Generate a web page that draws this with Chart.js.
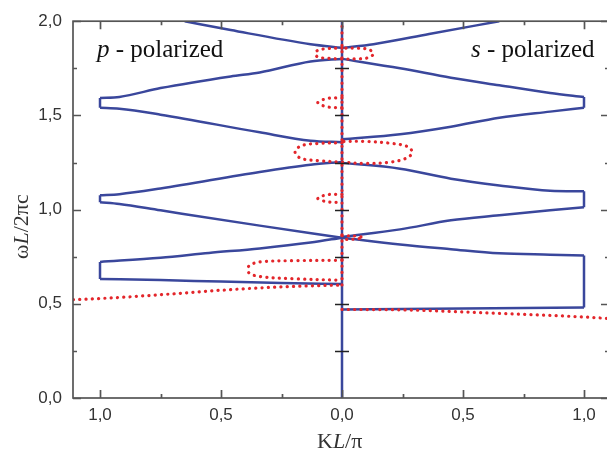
<!DOCTYPE html>
<html>
<head>
<meta charset="utf-8">
<script src="https://cdn.jsdelivr.net/npm/chart.js@4"></script>
<style>
  html, body { margin: 0; padding: 0; overflow: hidden; background: #fff; }
  canvas { display: block; }
</style>
</head>
<body>
<canvas id="bandas" width="612" height="458"></canvas>
<script>
// Bordes de banda: [KL/pi, wL/2pi c]; K negativo = mitad p (izquierda)
const p1Low  = [[-1, 0.632], [-0.75, 0.626], [-0.5, 0.618], [-0.25, 0.611], [0, 0.605]];
const p1High = [[-1, 0.722], [-0.75, 0.745], [-0.55, 0.77], [-0.34, 0.794], [-0.13, 0.825], [0, 0.851]];
const p1Edge = [[-1, 0.632], [-1, 0.722]];
const p2Low  = [[-1, 1.039], [-0.92, 1.03], [-0.75, 0.996], [-0.34, 0.915], [0, 0.851]];
const p2High = [[-1, 1.076], [-0.92, 1.082], [-0.75, 1.112], [-0.34, 1.2], [-0.13, 1.238], [0, 1.253]];
const p2Edge = [[-1, 1.039], [-1, 1.076]];
const p3Low  = [[-1, 1.54], [-0.92, 1.535], [-0.75, 1.504], [-0.34, 1.41], [-0.13, 1.366], [0, 1.358]];
const p3High = [[-1, 1.593], [-0.92, 1.598], [-0.75, 1.645], [-0.46, 1.707], [-0.34, 1.728], [-0.13, 1.786], [0, 1.8]];
const p3Edge = [[-1, 1.54], [-1, 1.593]];
const p4Low  = [[-0.65, 2.0], [-0.46, 1.953], [-0.13, 1.878], [0, 1.859]];

// mitad s (derecha)
const s1Low  = [[0, 0.47], [0.5, 0.475], [1, 0.48]];
const s1High = [[0, 0.851], [0.24, 0.815], [0.45, 0.79], [0.65, 0.768], [0.86, 0.761], [1, 0.757]];
const s1Edge = [[1, 0.48], [1, 0.757]];
const s2Low  = [[0, 0.855], [0.24, 0.895], [0.45, 0.943], [0.65, 0.97], [0.86, 0.997], [1, 1.013]];
const s2High = [[0, 1.248], [0.24, 1.217], [0.45, 1.164], [0.65, 1.128], [0.86, 1.1], [1, 1.097]];
const s2Edge = [[1, 1.013], [1, 1.097]];
const s3Low  = [[0, 1.373], [0.24, 1.4], [0.45, 1.44], [0.65, 1.488], [0.86, 1.52], [1, 1.54]];
const s3High = [[0, 1.8], [0.24, 1.75], [0.45, 1.7], [0.65, 1.66], [0.86, 1.619], [1, 1.598]];
const s3Edge = [[1, 1.54], [1, 1.598]];
const s4Low  = [[0, 1.859], [0.13, 1.878], [0.36, 1.932], [0.65, 2.0]];
const kZero  = [[0, 0], [0, 2]];

// Curvas punteadas (rojo)
const pLight = [[-1.11, 0.522], [-1, 0.528], [-0.75, 0.548], [-0.5, 0.572], [-0.25, 0.59], [0, 0.6]];
const sLight = [[0, 0.47], [0.24, 0.468], [0.65, 0.449], [1, 0.43], [1.1, 0.422]];
const kZeroDots = [[0, 0.6], [0, 2]];
const loopA = [[0, 0.731], [-0.2, 0.729], [-0.34, 0.722], [-0.385, 0.7], [-0.385, 0.665], [-0.34, 0.645], [-0.2, 0.633], [0, 0.625]];
const loopB = [[0, 0.862], [0.06, 0.859], [0.087, 0.851], [0.06, 0.844], [0, 0.841]];
const loopC = [[0, 1.081], [-0.06, 1.079], [-0.1, 1.06], [-0.06, 1.041], [0, 1.039]];
const loopD = [[0, 1.355], [-0.1, 1.351], [-0.17, 1.338], [-0.194, 1.305], [-0.17, 1.272], [-0.1, 1.26], [0, 1.252],
               [0.1, 1.245], [0.2, 1.252], [0.27, 1.275], [0.29, 1.305], [0.27, 1.335], [0.2, 1.352], [0.1, 1.362], [0, 1.362]];
const loopE = [[0, 1.593], [-0.06, 1.59], [-0.1, 1.567], [-0.06, 1.545], [0, 1.541]];
const loopF = [[0, 1.857], [-0.06, 1.855], [-0.1, 1.845], [-0.11, 1.828], [-0.1, 1.81], [-0.06, 1.803], [0, 1.8],
               [0.06, 1.8], [0.11, 1.807], [0.13, 1.828], [0.11, 1.85], [0.06, 1.857], [0, 1.857]];

// Marcas de los ejes
const kTicks = [-1, -0.5, 0, 0.5, 1];
const kMinor = [-0.75, -0.25, 0.25, 0.75];
const wTicks = [0, 0.5, 1, 1.5, 2];
const wMinor = [0.25, 0.75, 1.25, 1.75];
const centerTicks = [0.25, 0.5, 0.75, 1, 1.25, 1.5, 1.75];

const AZUL = "#3a479c";
const ROJO = "#e3262b";

function pts(arr) {
  return arr.map(function (p) { return { x: p[0], y: p[1] }; });
}

let datasets = [];

// bordes azules
[kZero, p1Low, p1High, p1Edge, p2Low, p2High, p2Edge, p3Low, p3High, p3Edge, p4Low,
 s1Low, s1High, s1Edge, s2Low, s2High, s2Edge, s3Low, s3High, s3Edge, s4Low].forEach(function (c) {
  datasets.push({
    data: pts(c),
    showLine: true,
    borderColor: AZUL,
    borderWidth: 2.5,
    pointRadius: 0,
    cubicInterpolationMode: "monotone",
    order: 2
  });
});

// rectas punteadas
[pLight, sLight, kZeroDots].forEach(function (c) {
  datasets.push({
    data: pts(c),
    showLine: true,
    borderColor: ROJO,
    borderWidth: 3.2,
    borderDash: [0.1, 6.2],
    borderCapStyle: "round",
    pointRadius: 0,
    cubicInterpolationMode: "monotone",
    order: 1
  });
});

// lazos punteados
[loopA, loopB, loopC, loopD, loopE, loopF].forEach(function (c) {
  datasets.push({
    data: pts(c),
    showLine: true,
    borderColor: ROJO,
    borderWidth: 3.2,
    borderDash: [0.1, 6.2],
    borderCapStyle: "round",
    pointRadius: 0,
    tension: 0.35,
    order: 1
  });
});

function coma(v) {
  return Math.abs(v).toFixed(1).replace(".", ",");
}

// Marco, marcas internas y textos
const marco = {
  id: "marco",
  afterDatasetsDraw(chart) {
    const ctx = chart.ctx;
    const a = chart.chartArea;
    const xs = chart.scales.x;
    const ys = chart.scales.y;
    ctx.save();
    ctx.strokeStyle = "#555";
    ctx.lineWidth = 1.7;
    ctx.strokeRect(a.left, a.top, a.right - a.left, a.bottom - a.top);

    ctx.beginPath();
    kTicks.concat(kMinor).forEach(function (v) {
      const len = kTicks.indexOf(v) >= 0 ? 8 : 4;
      const px = Math.round(xs.getPixelForValue(v)) + 0.5;
      ctx.moveTo(px, a.bottom); ctx.lineTo(px, a.bottom - len);
      ctx.moveTo(px, a.top); ctx.lineTo(px, a.top + len);
    });
    wTicks.concat(wMinor).forEach(function (v) {
      const len = wTicks.indexOf(v) >= 0 ? 8 : 4;
      const py = Math.round(ys.getPixelForValue(v)) + 0.5;
      ctx.moveTo(a.left, py); ctx.lineTo(a.left + len, py);
      ctx.moveTo(a.right, py); ctx.lineTo(a.right - len, py);
    });
    ctx.stroke();

    // marcas sobre K = 0
    const cx = xs.getPixelForValue(0);
    ctx.strokeStyle = "#222";
    ctx.lineWidth = 1.5;
    ctx.beginPath();
    centerTicks.forEach(function (v) {
      const py = Math.round(ys.getPixelForValue(v)) + 0.5;
      ctx.moveTo(cx - 7, py); ctx.lineTo(cx + 7, py);
    });
    ctx.stroke();

    // rotulos de polarizacion
    ctx.fillStyle = "#111";
    ctx.textBaseline = "alphabetic";
    ctx.textAlign = "left";
    function mixto(partes, x, y) {
      partes.forEach(function (p) {
        ctx.font = p[1] + "px 'Liberation Serif', 'DejaVu Serif', serif";
        ctx.fillText(p[0], x, y);
        x += ctx.measureText(p[0]).width;
      });
    }
    mixto([["p", "italic 25"], [" - polarized", "25"]], 97, 57);
    mixto([["s", "italic 25"], [" - polarized", "25"]], 471, 57);

    // titulos de los ejes
    ctx.fillStyle = "#333";
    mixto([["K", "22"], ["L", "italic 22"], ["/\u03c0", "22"]], 317, 448);
    ctx.translate(28, 259);
    ctx.rotate(-Math.PI / 2);
    mixto([["\u03c9", "22"], ["L", "italic 22"], ["/2\u03c0c", "22"]], 0, 0);
    ctx.restore();
  }
};

new Chart(document.getElementById("bandas"), {
  type: "scatter",
  data: { datasets: datasets },
  plugins: [marco],
  options: {
    responsive: false,
    animation: false,
    devicePixelRatio: 1,
    layout: { padding: { left: 0, top: 15, right: 3, bottom: 0 } },
    plugins: { legend: { display: false }, tooltip: { enabled: false } },
    scales: {
      x: {
        type: "linear",
        min: -1.1116,
        max: 1.1033,
        grid: { display: false, drawTicks: false },
        border: { display: false },
        afterBuildTicks: function (s) { s.ticks = kTicks.map(function (v) { return { value: v }; }); },
        afterFit: function (s) { s.height = 60; },
        ticks: {
          padding: 7,
          color: "#333",
          font: { family: "'Liberation Sans', Arial, sans-serif", size: 17 },
          callback: function (v) { return coma(v); }
        }
      },
      y: {
        type: "linear",
        min: 0,
        max: 2,
        grid: { display: false, drawTicks: false },
        border: { display: false },
        afterBuildTicks: function (s) { s.ticks = wTicks.map(function (v) { return { value: v }; }); },
        afterFit: function (s) { s.width = 73; },
        ticks: {
          padding: 11,
          color: "#333",
          font: { family: "'Liberation Sans', Arial, sans-serif", size: 17 },
          callback: function (v) { return coma(v); }
        }
      }
    }
  }
});
</script>
</body>
</html>
